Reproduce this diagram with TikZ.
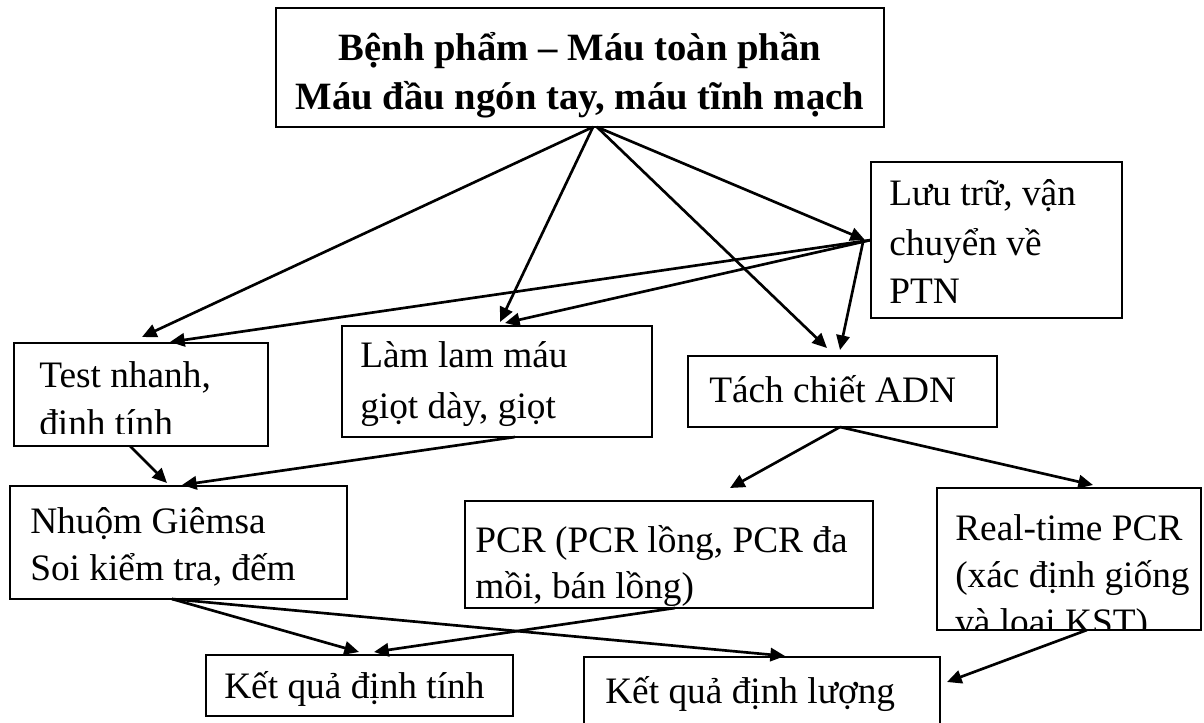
\documentclass[tikz,border=0pt]{standalone}
\usepackage{fontspec}
\setmainfont{Liberation Serif}
\usetikzlibrary{arrows.meta,calc,fit}
\begin{document}
\begin{tikzpicture}[x=0.75pt,y=-0.75pt,
  box/.style={draw, line width=1.5pt, inner sep=0pt, outer sep=0pt},
  txt/.style={inner sep=0pt, anchor=base west, font=\fontsize{28}{34}\selectfont},
  ttl/.style={inner sep=0pt, anchor=base, font=\fontsize{29}{35}\selectfont\bfseries},
  flow/.style={line width=2pt, -{Triangle[length=11pt,width=10pt]}}]
\useasboundingbox (0,0) rectangle (1204,722);
\fill[white] (0,0) rectangle (1204,722);

% boxes
\node[box, fit={(276,8) (884,127)}]    (src)   {};
\node[box, fit={(871,162) (1122,318)}] (store) {};
\node[box, fit={(14,343) (268,446)}]   (rapid) {};
\node[box, fit={(342,326) (652,437)}]  (smear) {};
\node[box, fit={(688,356) (997,427)}]  (dna)   {};
\node[box, fit={(10,486) (347,599)}]   (stain) {};
\node[box, fit={(465,501) (873,608)}]  (pcr)   {};
\node[box, fit={(937,488) (1201,630)}] (rt)    {};
\node[box, fit={(206,655) (513,716)}]  (qual)  {};
\node[box, fit={(584,657) (940,745)}]  (quant) {};

% box texts, cut off at the inner edge of their frames
\node[ttl] (srcA) at (580,60)  {Bệnh phẩm – Máu toàn phần};
\node[ttl] (srcB) at (580,109) {Máu đầu ngón tay, máu tĩnh mạch};

\node[txt] (storeA) at (889,205) {Lưu trữ, vận};
\node[txt] (storeB) at (889,255) {chuyển về};
\node[txt] (storeC) at (889,303) {PTN};

\begin{scope}
  \clip (14,343) rectangle (268,433);
  \node[txt] (rapidA) at (39,387) {Test nhanh,};
  \node[txt] (rapidB) at (39,435) {định tính};
\end{scope}

\begin{scope}
  \clip (342,326) rectangle (652,432);
  \node[txt] (smearA) at (360,367) {Làm lam máu};
  \node[txt] (smearB) at (360,418) {giọt dày, giọt};
\end{scope}

\node[txt] (dnaA) at (709,402) {Tách chiết ADN};

\node[txt] (stainA) at (30,533) {Nhuộm Giêmsa};
\node[txt] (stainB) at (30,580) {Soi kiểm tra, đếm};

\begin{scope}
  \clip (465,501) rectangle (873,605);
  \node[txt] (pcrA) at (475,552) {PCR (PCR lồng, PCR đa};
  \node[txt] (pcrB) at (475,598) {mồi, bán lồng)};
\end{scope}

\begin{scope}
  \clip (937,488) rectangle (1201,628);
  \node[txt] (rtA) at (955,540) {Real-time PCR};
  \node[txt] (rtB) at (955,587) {(xác định giống};
  \node[txt] (rtC) at (955,634) {và loại KST)};
\end{scope}

\node[txt] (qualA)  at (224,698) {Kết quả định tính};
\node[txt] (quantA) at (605,703) {Kết quả định lượng};

% connectors
\draw[flow] ($(src.south west)+(317,0)$) -- ($(rapid.north west)+(128,-6)$);
\draw[flow] ($(src.south west)+(317,0)$) -- ($(smear.north west)+(158,-4)$);
\draw[flow] ($(src.south west)+(321,0)$) -- ($(dna.north west)+(139,-8)$);
\draw[flow] ($(src.south west)+(321,0)$) -- ($(store.north west)+(-6,78)$);

\draw[flow] ($(store.north west)+(0,78)$) -- ($(rapid.north west)+(156,-1)$);
\draw[flow] ($(store.north west)+(0,78)$) -- ($(smear.north west)+(163,-3)$);
\draw[flow] ($(store.north west)+(-8,80)$) -- ($(dna.north west)+(152,-6)$);

\draw[flow] ($(rapid.south west)+(116,0)$) -- ($(stain.north west)+(157,-3)$);
\draw[flow] ($(smear.south west)+(173,0)$) -- ($(stain.north west)+(172,-1)$);

\draw[flow] ($(dna.south west)+(152,0)$) -- ($(pcr.north west)+(265,-13)$);
\draw[flow] ($(dna.south west)+(152,0)$) -- ($(rt.north west)+(156,-3)$);

\draw[flow] ($(stain.south west)+(162,0)$) -- ($(qual.north west)+(153,-3)$);
\draw[flow] ($(stain.south west)+(162,0)$) -- ($(quant.north west)+(201,-1)$);
\draw[flow] ($(pcr.south west)+(210,0)$) -- ($(qual.north west)+(168,-3)$);
\draw[flow] ($(rt.south west)+(150,0)$) -- ($(quant.north east)+(7,25)$);
\end{tikzpicture}
\end{document}
